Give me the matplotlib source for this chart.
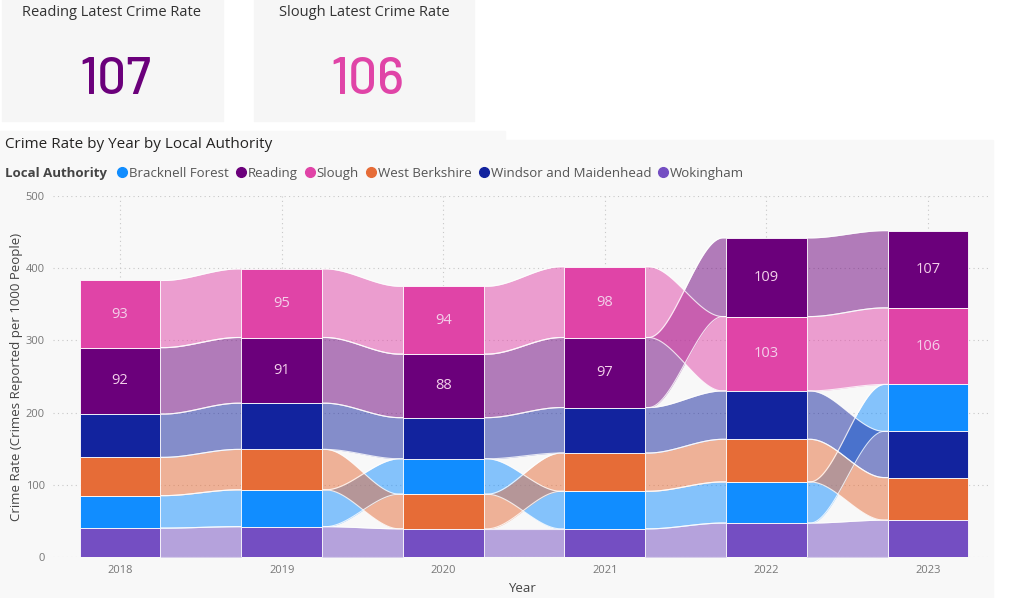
import matplotlib
matplotlib.use('Agg')
import matplotlib.pyplot as plt
from matplotlib.patches import Rectangle
import numpy as np

# crime rate per 1000 people
years = ['2018', '2019', '2020', '2021', '2022', '2023']
authorities = ['Bracknell Forest', 'Reading', 'Slough', 'West Berkshire',
               'Windsor and Maidenhead', 'Wokingham']
bracknell = [45, 51, 49, 52, 57, 65]
reading = [92, 91, 88, 97, 109, 107]
slough = [93, 95, 94, 98, 103, 106]
west_berks = [53, 56, 48, 53, 59, 59]
windsor = [60, 64, 57, 63, 67, 64]
wokingham = [40, 42, 39, 39, 47, 51]
colors = ['#118DFF', '#6B007B', '#E044A7', '#E66C37', '#12239E', '#744EC2']
labelled = ['Reading', 'Slough']
reading_latest = 107
slough_latest = 106

plt.rcParams['font.family'] = ['Open Sans', 'DejaVu Sans']

W, H = 1024, 598
fig = plt.figure(figsize=(W / 100, H / 100), dpi=100, facecolor='white')


def fx(x):
    return x / W


def fy(y):
    return 1 - y / H


def box(x0, y0, x1, y1, color):
    fig.patches.append(Rectangle((fx(x0), fy(y1)), fx(x1 - x0), (y1 - y0) / H,
                                 transform=fig.transFigure, color=color, zorder=-5))


# cards
box(2, 0, 223, 121, '#f6f6f6')
box(254, 0, 474, 121, '#f6f6f6')
box(0, 131, 505, 160, '#f8f8f8')
box(0, 140, 993, 598, '#f8f8f8')

fig.text(fx(112), fy(12), 'Reading Latest Crime Rate', ha='center', va='center',
         fontsize=10.5, color='#333333')
fig.text(fx(364), fy(12), 'Slough Latest Crime Rate', ha='center', va='center',
         fontsize=10.5, color='#333333')
num_font = ['Barlow', 'Roboto']
fig.text(fx(115), fy(75), str(reading_latest), ha='center', va='center_baseline',
         fontsize=37, fontweight='medium', color=colors[1], family=num_font)
fig.text(fx(367), fy(75), str(slough_latest), ha='center', va='center_baseline',
         fontsize=37, fontweight='medium', color=colors[2], family=num_font)

fig.text(fx(5), fy(144), 'Crime Rate by Year by Local Authority', ha='left', va='center',
         fontsize=11, color='#252423')

# legend laid out left to right
renderer = fig.canvas.get_renderer()
t = fig.text(fx(5), fy(172), 'Local Authority', ha='left', va='center_baseline',
             fontsize=9.5, fontweight='bold', color='#444444')
x = t.get_window_extent(renderer).x1 + 15
for name, c in zip(authorities, colors):
    fig.lines.append(plt.Line2D([x / W], [fy(172)], marker='o', markersize=7,
                                color=c, transform=fig.transFigure))
    t = fig.text((x + 7) / W, fy(172), name, ha='left', va='center_baseline',
                 fontsize=9.5, color='#555555')
    x = t.get_window_extent(renderer).x1 + 12

# ribbon chart
ax = fig.add_axes([fx(53), fy(557), fx(990 - 53), (557 - 196) / H])
ax.set_facecolor('none')
ax.set_zorder(1)
vals = np.array([bracknell, reading, slough, west_berks, windsor, wokingham], dtype=float)
n_series, n_years = vals.shape
bottoms = np.zeros_like(vals)
for j in range(n_years):
    order = np.argsort(vals[:, j])
    bottoms[order, j] = np.concatenate([[0], np.cumsum(vals[order, j])[:-1]])
tops = bottoms + vals

hw = 0.25
xs_idx = np.arange(n_years)


def ease(t):
    t = np.clip((t - 0.04) / 0.92, 0, 1)
    return t * t * (3 - 2 * t)


for i in range(n_years - 1):
    x0, x1 = i + hw, i + 1 - hw
    xs = np.linspace(x0, x1, 80)
    s = ease((xs - x0) / (x1 - x0))
    for k in range(n_series):
        lo = bottoms[k, i] + (bottoms[k, i + 1] - bottoms[k, i]) * s
        hi = tops[k, i] + (tops[k, i + 1] - tops[k, i]) * s
        ax.fill_between(xs, lo, hi, color=colors[k], alpha=0.5, lw=0, zorder=2)
        ax.plot(xs, hi, color='white', lw=0.8, alpha=0.8, zorder=2.5)
        ax.plot(xs, lo, color='white', lw=0.8, alpha=0.8, zorder=2.5)

for k in range(n_series):
    ax.bar(xs_idx, vals[k], bottom=bottoms[k], width=2 * hw, color=colors[k],
           edgecolor='white', linewidth=0.6, zorder=3)
    if authorities[k] in labelled:
        for j in range(n_years):
            ax.text(j, bottoms[k, j] + vals[k, j] / 2, f'{vals[k, j]:.0f}',
                    ha='center', va='center', fontsize=10.5, color='#f3d0ea', zorder=4)

ax.set_xlim(-0.415, 5.384)
ax.set_ylim(0, 500)
ax.set_xticks(xs_idx)
ax.set_xticklabels(years)
ax.set_yticks(range(0, 501, 100))
ax.tick_params(length=0, colors='#777777', labelsize=8, pad=6)
ax.grid(color='#c8c8c8', linestyle=(0, (1, 3)), linewidth=0.8, zorder=0)
ax.set_axisbelow(True)
for sp in ax.spines.values():
    sp.set_visible(False)
ax.set_xlabel('Year', fontsize=9.5, color='#444444', labelpad=4)
ax.set_ylabel('Crime Rate (Crimes Reported per 1000 People)', fontsize=9.5,
              color='#444444', labelpad=2)

fig.savefig('out.png', dpi=100, facecolor='white')
